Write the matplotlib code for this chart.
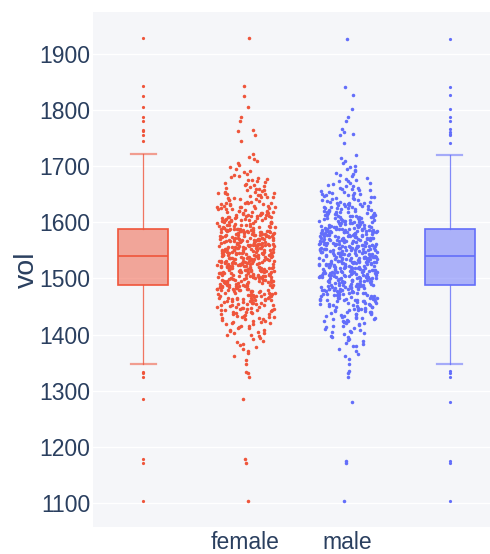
import numpy as np
import matplotlib
matplotlib.use("Agg")
import matplotlib.pyplot as plt

# vol values per sex (sorted high to low)
female_vol = [
    1929, 1843, 1826, 1805, 1788, 1780, 1765, 1762, 1756, 1745,
    1722, 1717, 1713, 1709, 1705, 1702,
    1698, 1695, 1692, 1690, 1687, 1685, 1683, 1681,
    1679, 1678, 1676, 1675, 1673, 1672, 1670, 1669, 1667, 1666, 1664, 1663, 1661, 1660,
    1640, 1641, 1642, 1643, 1644, 1645, 1645, 1646, 1647, 1648, 1649, 1650, 1651, 1652, 1652, 1653,
    1654, 1655, 1656, 1657, 1658, 1659,
    1620, 1621, 1622, 1623, 1624, 1625, 1626, 1627, 1628, 1629, 1630, 1631, 1632, 1633, 1634, 1635,
    1636, 1637, 1638, 1639, 1621, 1623, 1625, 1627, 1628, 1630, 1632, 1634, 1635,
    1600, 1601, 1602, 1603, 1604, 1605, 1606, 1607, 1608, 1609, 1610, 1611, 1612, 1613, 1614, 1615, 1616, 1617, 1618, 1619,
    1600, 1601, 1602, 1603, 1604, 1605, 1606, 1607, 1608, 1609, 1610, 1611, 1612, 1613, 1614, 1615, 1616, 1617, 1618, 1619,
    1604,
    1580, 1581, 1582, 1583, 1584, 1585, 1586, 1587, 1588, 1589, 1590, 1591, 1592, 1593, 1594, 1595, 1596, 1597, 1598, 1599,
    1580, 1581, 1582, 1583, 1584, 1585, 1586, 1587, 1588, 1589, 1590, 1591, 1592, 1593, 1594, 1595, 1596, 1597, 1598, 1599,
    1580, 1581, 1582, 1583, 1584, 1585, 1586, 1587, 1588, 1589, 1590, 1583, 1586,
    1560, 1561, 1562, 1563, 1564, 1565, 1566, 1567, 1568, 1569, 1570, 1571, 1572, 1573, 1574, 1575, 1576, 1577, 1578, 1579,
    1560, 1561, 1562, 1563, 1564, 1565, 1566, 1567, 1568, 1569, 1570, 1571, 1572, 1573, 1574, 1575, 1576, 1577, 1578, 1579,
    1560, 1561, 1562, 1563, 1564, 1565, 1566, 1567, 1568, 1569, 1570, 1571, 1572, 1573, 1574, 1575, 1576, 1577, 1578, 1579,
    1540, 1541, 1542, 1543, 1544, 1545, 1546, 1547, 1548, 1549, 1550, 1551, 1552, 1553, 1554, 1555, 1556, 1557, 1558, 1559,
    1540, 1541, 1542, 1543, 1544, 1545, 1546, 1547, 1548, 1549, 1550, 1551, 1552, 1553, 1554, 1555, 1556, 1557, 1558, 1559,
    1540, 1541, 1542, 1543, 1544, 1545, 1546, 1547, 1548, 1549, 1550, 1551, 1552, 1553, 1554, 1555, 1556, 1557, 1558, 1559,
    1541, 1546, 1551, 1556,
    1520, 1521, 1522, 1523, 1524, 1525, 1526, 1527, 1528, 1529, 1530, 1531, 1532, 1533, 1534, 1535, 1536, 1537, 1538, 1539,
    1520, 1521, 1522, 1523, 1524, 1525, 1526, 1527, 1528, 1529, 1530, 1531, 1532, 1533, 1534, 1535, 1536, 1537, 1538, 1539,
    1520, 1521, 1522, 1523, 1524, 1525, 1526, 1527, 1528, 1529, 1530, 1531, 1532, 1533, 1534, 1535, 1536, 1537, 1538, 1539,
    1522, 1527, 1532, 1537,
    1500, 1501, 1502, 1503, 1504, 1505, 1506, 1507, 1508, 1509, 1510, 1511, 1512, 1513, 1514, 1515, 1516, 1517, 1518, 1519,
    1500, 1501, 1502, 1503, 1504, 1505, 1506, 1507, 1508, 1509, 1510, 1511, 1512, 1513, 1514, 1515, 1516, 1517, 1518, 1519,
    1500, 1501, 1502, 1503, 1504, 1505, 1506, 1507, 1508, 1509, 1510, 1511, 1512, 1513, 1514, 1515, 1516, 1517, 1518, 1519,
    1480, 1481, 1482, 1483, 1484, 1485, 1486, 1487, 1488, 1489, 1490, 1491, 1492, 1493, 1494, 1495, 1496, 1497, 1498, 1499,
    1480, 1481, 1482, 1483, 1484, 1485, 1486, 1487, 1488, 1489, 1490, 1491, 1492, 1493, 1494, 1495, 1496, 1497, 1498, 1499,
    1480, 1482, 1484, 1486, 1488, 1490, 1492, 1494, 1495, 1497, 1499,
    1460, 1461, 1462, 1463, 1464, 1465, 1466, 1467, 1468, 1469, 1470, 1471, 1472, 1473, 1474, 1475, 1476, 1477, 1478, 1479,
    1460, 1461, 1462, 1463, 1464, 1465, 1466, 1467, 1468, 1469, 1470, 1471, 1472, 1473, 1474, 1475, 1476, 1477, 1478, 1479,
    1465,
    1440, 1441, 1442, 1443, 1444, 1445, 1446, 1447, 1448, 1449, 1450, 1451, 1452, 1453, 1454, 1455, 1456, 1457, 1458, 1459,
    1441, 1443, 1444, 1446, 1448, 1450, 1452, 1453, 1455, 1457, 1458,
    1420, 1421, 1422, 1423, 1424, 1425, 1426, 1427, 1428, 1429, 1430, 1431, 1432, 1433, 1434, 1435, 1436, 1437, 1438, 1439,
    1431, 1437,
    1400, 1402, 1403, 1405, 1406, 1408, 1409, 1411, 1412, 1414, 1415, 1416, 1418, 1419,
    1381, 1384, 1386, 1389, 1392, 1394, 1397, 1399,
    1362, 1368, 1371, 1375, 1378,
    1347, 1355,
    1334, 1332, 1325, 1286, 1179, 1171, 1104,
]

male_vol = [
    1926, 1841, 1827, 1802, 1788, 1780, 1766, 1761, 1758, 1755, 1742,
    1720, 1714, 1710, 1706, 1701,
    1698, 1696, 1693, 1691, 1688, 1686, 1684, 1682,
    1679, 1677, 1676, 1674, 1673, 1671, 1670, 1668, 1667, 1665, 1664, 1662, 1661, 1660,
    1640, 1641, 1642, 1643, 1644, 1645, 1646, 1647, 1648, 1649, 1649, 1650, 1651, 1652, 1653, 1654,
    1655, 1656, 1657, 1658, 1659,
    1620, 1621, 1622, 1623, 1624, 1625, 1626, 1627, 1628, 1629, 1630, 1631, 1632, 1633, 1634, 1635,
    1636, 1637, 1638, 1639, 1620, 1622, 1624, 1626, 1627, 1629, 1631, 1633, 1634, 1636,
    1600, 1601, 1602, 1603, 1604, 1605, 1606, 1607, 1608, 1609, 1610, 1611, 1612, 1613, 1614, 1615, 1616, 1617, 1618, 1619,
    1600, 1601, 1602, 1603, 1604, 1605, 1606, 1607, 1608, 1609, 1610, 1611, 1612, 1613, 1614, 1615, 1616, 1617, 1618, 1619,
    1580, 1581, 1582, 1583, 1584, 1585, 1586, 1587, 1588, 1589, 1590, 1591, 1592, 1593, 1594, 1595, 1596, 1597, 1598, 1599,
    1580, 1581, 1582, 1583, 1584, 1585, 1586, 1587, 1588, 1589, 1590, 1591, 1592, 1593, 1594, 1595, 1596, 1597, 1598, 1599,
    1580, 1581, 1582, 1582, 1583, 1584, 1585, 1585, 1586, 1587, 1588, 1589, 1590, 1591,
    1560, 1561, 1562, 1563, 1564, 1565, 1566, 1567, 1568, 1569, 1570, 1571, 1572, 1573, 1574, 1575, 1576, 1577, 1578, 1579,
    1560, 1561, 1562, 1563, 1564, 1565, 1566, 1567, 1568, 1569, 1570, 1571, 1572, 1573, 1574, 1575, 1576, 1577, 1578, 1579,
    1560, 1561, 1562, 1563, 1564, 1565, 1566, 1567, 1568, 1569, 1570, 1572, 1573, 1574, 1575, 1576, 1577, 1578, 1579,
    1540, 1541, 1542, 1543, 1544, 1545, 1546, 1547, 1548, 1549, 1550, 1551, 1552, 1553, 1554, 1555, 1556, 1557, 1558, 1559,
    1540, 1541, 1542, 1543, 1544, 1545, 1546, 1547, 1548, 1549, 1550, 1551, 1552, 1553, 1554, 1555, 1556, 1557, 1558, 1559,
    1540, 1541, 1542, 1543, 1544, 1545, 1546, 1547, 1548, 1549, 1550, 1551, 1552, 1553, 1554, 1555, 1556, 1557, 1558, 1559,
    1540, 1545, 1550, 1555, 1558,
    1520, 1521, 1522, 1523, 1524, 1525, 1526, 1527, 1528, 1529, 1530, 1531, 1532, 1533, 1534, 1535, 1536, 1537, 1538, 1539,
    1520, 1521, 1522, 1523, 1524, 1525, 1526, 1527, 1528, 1529, 1530, 1531, 1532, 1533, 1534, 1535, 1536, 1537, 1538, 1539,
    1520, 1521, 1522, 1523, 1524, 1525, 1526, 1527, 1528, 1529, 1530, 1531, 1532, 1533, 1534, 1535, 1536, 1537, 1538, 1539,
    1524, 1531, 1538,
    1500, 1501, 1502, 1503, 1504, 1505, 1506, 1507, 1508, 1509, 1510, 1511, 1512, 1513, 1514, 1515, 1516, 1517, 1518, 1519,
    1500, 1501, 1502, 1503, 1504, 1505, 1506, 1507, 1508, 1509, 1510, 1511, 1512, 1513, 1514, 1515, 1516, 1517, 1518, 1519,
    1500, 1501, 1502, 1503, 1504, 1505, 1506, 1507, 1508, 1509, 1510, 1511, 1512, 1513, 1514, 1515, 1516, 1517, 1518, 1519,
    1510,
    1480, 1481, 1482, 1483, 1484, 1485, 1486, 1487, 1488, 1489, 1490, 1491, 1492, 1493, 1494, 1495, 1496, 1497, 1498, 1499,
    1480, 1481, 1482, 1483, 1484, 1485, 1486, 1487, 1488, 1489, 1490, 1491, 1492, 1493, 1494, 1495, 1496, 1497, 1498, 1499,
    1481, 1483, 1485, 1487, 1489, 1491, 1493, 1495, 1496, 1498,
    1460, 1461, 1462, 1463, 1464, 1465, 1466, 1467, 1468, 1469, 1470, 1471, 1472, 1473, 1474, 1475, 1476, 1477, 1478, 1479,
    1460, 1461, 1462, 1463, 1464, 1465, 1466, 1467, 1468, 1469, 1470, 1471, 1472, 1473, 1474, 1475, 1476, 1477, 1478, 1479,
    1462, 1474,
    1440, 1441, 1442, 1443, 1444, 1445, 1446, 1447, 1448, 1449, 1450, 1451, 1452, 1453, 1454, 1455, 1456, 1457, 1458, 1459,
    1440, 1442, 1444, 1446, 1449, 1451, 1453, 1454, 1456, 1459,
    1420, 1421, 1422, 1423, 1424, 1425, 1426, 1427, 1428, 1429, 1430, 1431, 1432, 1433, 1434, 1435, 1436, 1437, 1438, 1439,
    1424, 1430, 1436,
    1401, 1402, 1404, 1405, 1407, 1409, 1410, 1412, 1413, 1415, 1416, 1417, 1419,
    1380, 1383, 1385, 1388, 1390, 1393, 1395, 1396, 1398,
    1361, 1366, 1370, 1374, 1379,
    1348, 1357,
    1335, 1331, 1325, 1280, 1174, 1171, 1103,
]

categories = ["female", "male"]
colors = ["#EF553B", "#636EFA"]
y_ticks = [1100, 1200, 1300, 1400, 1500, 1600, 1700, 1800, 1900]

text_color = "#2a3f5f"
plt.rcParams["font.family"] = ["Liberation Sans", "DejaVu Sans"]


def strip_offsets(values, seed, half_width=0.285):
    # density scaled jitter, wide where points pile up, narrow in the tails
    v = np.sort(np.asarray(values, dtype=float))
    n = len(v)
    q1, q3 = np.percentile(v, [25, 75])
    spread = (q3 - q1) * 0.01
    factors = np.zeros(n)
    for i in range(n):
        i0 = max(0, i - 5)
        i1 = min(n - 1, i + 5)
        factors[i] = min(1.0, np.sqrt(spread * (i1 - i0) / (v[i1] - v[i0] + spread)))
    factors /= factors.max()
    k = np.arange(n) + 1
    u = np.sin(k * 12.9898 + seed * 78.233) * 43758.5453
    u = (u - np.floor(u)) * 2 - 1
    return v, factors * u * half_width


fig = plt.figure(figsize=(4.9, 5.54), dpi=100)
ax = fig.add_axes([93 / 490, 27 / 554, 397 / 490, 515 / 554])
ax.set_facecolor("#f5f6f9")

groups = [female_vol, male_vol]
box_pos = [-1, 2]

for j, (vals, col) in enumerate(zip(groups, colors)):
    # box with outliers on the outer side
    ax.boxplot(vals, positions=[box_pos[j]], widths=0.49, capwidths=0.245,
               patch_artist=True, manage_ticks=False, zorder=3,
               boxprops=dict(facecolor=matplotlib.colors.to_rgba(col, 0.5), edgecolor=col, linewidth=1.2),
               medianprops=dict(color=col, linewidth=1.2),
               whiskerprops=dict(color=col, linewidth=0.9, alpha=0.8),
               capprops=dict(color=col, linewidth=1.6, alpha=0.55),
               flierprops=dict(marker="o", markersize=2.3, markerfacecolor=col,
                               markeredgewidth=0, linestyle="none"))

    # all points jittered next to the category label
    v, dx = strip_offsets(vals, j + 1)
    ax.scatter(j + dx, v, s=6.5, color=col, linewidths=0, zorder=3)

ax.set_xlim(-1.492, 2.392)
ax.set_ylim(1057, 1975)
ax.set_xticks([0, 1])
ax.set_xticklabels(categories)
ax.set_yticks(y_ticks)
ax.grid(axis="y", color="white", linewidth=1.0, zorder=0)
ax.set_axisbelow(True)
for s in ax.spines.values():
    s.set_visible(False)
ax.tick_params(axis="both", length=0, labelsize=16.5, labelcolor=text_color)
ax.tick_params(axis="x", pad=3)
ax.tick_params(axis="y", pad=2)

fig.text(27 / 490, 1 - 270 / 554, "vol", rotation=90, ha="center", va="center",
         fontsize=20.5, color=text_color)

fig.savefig("out.png", dpi=100)
